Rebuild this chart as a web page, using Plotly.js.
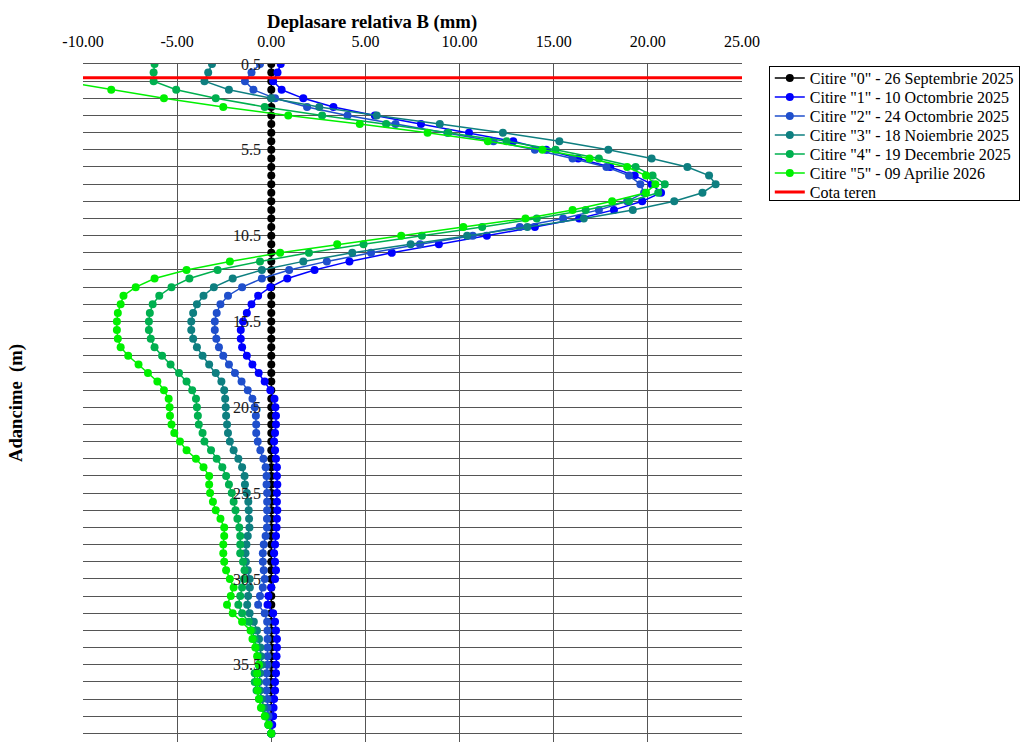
<!DOCTYPE html>
<html><head><meta charset="utf-8">
<script src="https://cdn.plot.ly/plotly-3.0.1.min.js"></script>
<style>html,body{margin:0;padding:0;background:#fff}#chart{width:1020px;height:742px}</style>
</head><body><div id="chart"></div>
<script>
const depth = [0.5,1,1.5,2,2.5,3,3.5,4,4.5,5,5.5,6,6.5,7,7.5,8,8.5,9,9.5,10,10.5,11,11.5,12,12.5,13,13.5,14,14.5,15,15.5,16,16.5,17,17.5,18,18.5,19,19.5,20,20.5,21,21.5,22,22.5,23,23.5,24,24.5,25,25.5,26,26.5,27,27.5,28,28.5,29,29.5,30,30.5,31,31.5,32,32.5,33,33.5,34,34.5,35,35.5,36,36.5,37,37.5,38,38.5,39,39.5];

const citire0 = [0,0,0,0,0,0,0,0,0,0,0,0,0,0,0,0,0,0,0,0,0,0,0,0,0,0,0,0,0,0,0,0,0,0,0,0,0,0,0,0,0,0,0,0,0,0,0,0,0,0,0,0,0,0,0,0,0,0,0,0,0,0,0,0,0,0,0,0,0,0,0,0,0,0,0,0,0,0,0];

const citire1 = [0.5,0.33,0.1,0.55,1.7,3.3,5.5,7.95,10.5,12.85,14.6,16.3,18.0,19.3,20.2,20.7,19.7,18.2,16.35,14.0,11.45,8.9,6.4,4.15,2.3,0.85,-0.05,-0.7,-1.05,-1.3,-1.5,-1.62,-1.62,-1.55,-1.3,-1.0,-0.67,-0.35,-0.05,0.17,0.22,0.25,0.25,0.2,0.15,0.2,0.25,0.3,0.3,0.32,0.3,0.3,0.32,0.3,0.28,0.25,0.2,0.15,0.2,0.25,0.2,0.0,-0.15,-0.2,0.1,0.2,0.25,0.3,0.3,0.28,0.25,0.25,0.2,0.2,0.15,0.12,0.1,0.05,0.0];

const citire2 = [-0.6,-1.05,-1.4,-0.95,0.2,1.9,4.05,6.6,9.35,11.8,14.0,16.0,17.8,19.0,19.6,19.8,18.9,17.4,15.5,13.2,10.7,7.9,5.3,2.95,0.95,-0.5,-1.55,-2.3,-2.7,-2.9,-3.0,-3.0,-2.92,-2.78,-2.55,-2.25,-1.93,-1.58,-1.25,-1.0,-0.88,-0.82,-0.8,-0.8,-0.72,-0.58,-0.42,-0.3,-0.25,-0.25,-0.22,-0.22,-0.22,-0.23,-0.23,-0.3,-0.4,-0.45,-0.45,-0.4,-0.35,-0.45,-0.6,-0.7,-0.35,-0.22,-0.2,-0.2,-0.2,-0.2,-0.2,-0.25,-0.25,-0.25,-0.2,-0.2,-0.15,-0.1,0.0];

const citire3 = [-3.15,-3.35,-3.55,-2.25,0.0,2.55,5.6,8.95,12.3,15.3,17.9,20.2,22.1,23.25,23.6,22.9,21.4,19.2,16.6,13.6,10.4,7.4,4.3,1.7,-0.5,-2.05,-3.05,-3.6,-3.95,-4.15,-4.25,-4.25,-4.15,-3.95,-3.65,-3.3,-2.95,-2.65,-2.5,-2.45,-2.42,-2.4,-2.35,-2.3,-2.2,-2.0,-1.75,-1.55,-1.42,-1.4,-1.3,-1.22,-1.2,-1.18,-1.16,-1.25,-1.32,-1.37,-1.35,-1.25,-1.15,-1.14,-1.23,-1.28,-1.15,-0.93,-0.76,-0.65,-0.58,-0.55,-0.5,-0.6,-0.65,-0.6,-0.5,-0.4,-0.3,-0.15,0.0];

const citire4 = [-6.2,-6.25,-6.25,-5.05,-2.95,-0.35,2.7,6.1,9.4,12.5,15.1,17.4,19.35,20.25,20.9,20.55,19.0,16.7,14.1,11.2,8.0,4.9,2.0,-0.6,-2.85,-4.35,-5.3,-5.95,-6.3,-6.45,-6.5,-6.5,-6.4,-6.2,-5.8,-5.35,-4.9,-4.5,-4.2,-4.0,-3.95,-3.9,-3.85,-3.65,-3.55,-3.2,-2.9,-2.6,-2.4,-2.25,-2.1,-2.0,-1.9,-1.8,-1.7,-1.65,-1.65,-1.65,-1.5,-1.42,-1.45,-1.55,-1.65,-1.75,-1.55,-1.2,-1.0,-0.9,-0.78,-0.7,-0.67,-0.88,-0.88,-0.78,-0.65,-0.5,-0.3,-0.15,0.0];

const citire5 = [-11.0,-11.1,-11.1,-8.5,-5.7,-2.55,0.9,4.7,8.3,11.5,14.4,16.9,18.9,19.9,20.4,19.9,18.1,16.0,13.5,10.2,6.9,3.5,0.47,-2.2,-4.5,-6.2,-7.2,-7.85,-8.0,-8.15,-8.2,-8.2,-8.15,-8.0,-7.6,-7.05,-6.55,-6.05,-5.7,-5.45,-5.4,-5.38,-5.3,-5.15,-4.85,-4.5,-4.0,-3.6,-3.3,-3.3,-3.25,-3.1,-2.95,-2.7,-2.5,-2.5,-2.55,-2.55,-2.5,-2.4,-2.2,-2.0,-2.15,-2.35,-2.05,-1.55,-1.1,-1.0,-0.85,-0.75,-0.65,-0.75,-0.75,-0.72,-0.65,-0.55,-0.35,-0.15,0.0];

const cotaX = [-10, 25];
const cotaY = [1.3, 1.3];

const seriesNames = [
  'Citire "0" - 26 Septembrie 2025',
  'Citire "1" - 10 Octombrie 2025',
  'Citire "2" - 24 Octombrie 2025',
  'Citire "3" - 18 Noiembrie 2025',
  'Citire "4" - 19 Decembrie 2025',
  'Citire "5" - 09 Aprilie 2026'
];
const cotaName = 'Cota teren';
const xTitle = 'Deplasare relativa B (mm)';
const yTitle = 'Adancime  (m)';
const xTickVals = [-10,-5,0,5,10,15,20,25];
const xTickText = ['-10.00','-5.00','0.00','5.00','10.00','15.00','20.00','25.00'];
const yTickVals = [0.5,5.5,10.5,15.5,20.5,25.5,30.5,35.5];
const yTickText = ['0.5','5.5','10.5','15.5','20.5','25.5','30.5','35.5'];

const seriesValues = [citire0, citire1, citire2, citire3, citire4, citire5];
const colors = ['#000000','#0000FF','#1F4FCC','#0E7F80','#00B04F','#00F000'];
const FONT = 'Liberation Serif, serif';

const traces = seriesValues.map((vals, i) => ({
  type: 'scatter', mode: 'lines+markers', name: seriesNames[i],
  x: vals, y: depth,
  line: {color: colors[i], width: 1.5},
  marker: {color: colors[i], size: 8},
  cliponaxis: true
}));
traces.push({
  type: 'scatter', mode: 'lines', name: cotaName,
  x: cotaX, y: cotaY, line: {color: '#FF0000', width: 3}
});

const grid = '#555555';
const layout = {
  width: 1020, height: 742,
  margin: {l: 83, r: 273, t: 64, b: 0},
  paper_bgcolor: '#fff', plot_bgcolor: '#fff',
  font: {family: FONT, size: 16, color: '#000'},
  showlegend: true,
  title: {
    text: xTitle, x: 372/1020, xref: 'container', xanchor: 'center',
    y: 1 - 21/742, yref: 'container', yanchor: 'middle',
    font: {family: FONT, size: 18.67, weight: 700, color: '#000'}
  },
  xaxis: {
    side: 'top', range: [-10, 25], tickmode: 'array',
    tickvals: xTickVals, ticktext: xTickText,
    ticks: 'outside', ticklen: 10, tickcolor: 'rgba(0,0,0,0)',
    showgrid: true, gridcolor: grid, gridwidth: 1,
    zeroline: false, showline: true, linecolor: grid, linewidth: 1, mirror: true,
    tickfont: {family: FONT, size: 16, color: '#000'}, fixedrange: true
  },
  yaxis: {
    range: [40, 0.5], anchor: 'free', position: 10/35, side: 'left',
    tickmode: 'array', tickvals: yTickVals, ticktext: yTickText,
    ticks: 'outside', ticklen: 7, tickcolor: 'rgba(0,0,0,0)',
    showgrid: true, gridcolor: grid, gridwidth: 1,
    minor: {tickmode: 'linear', tick0: 0.5, dtick: 1, showgrid: true, gridcolor: grid, gridwidth: 1, ticks: ''},
    zeroline: false, showline: false,
    tickfont: {family: FONT, size: 16, color: '#1a1a1a'},
    title: {text: yTitle, standoff: 204, font: {family: FONT, size: 18.67, weight: 700, color: '#000'}},
    automargin: false, fixedrange: true
  },
  legend: {
    x: (774-83)/664, xanchor: 'left', y: 0.997, yanchor: 'top',
    bgcolor: '#fff', bordercolor: '#000', borderwidth: 1,
    font: {family: FONT, size: 16, color: '#000'},
    tracegroupgap: 0, itemwidth: 30
  }
};
Plotly.newPlot('chart', traces, layout, {displayModeBar: false, staticPlot: true}).then(gd => {
  // tighten legend row spacing to match the compact reference legend
  const leg = gd.querySelector('g.legend');
  if (!leg) return;
  const items = leg.querySelectorAll('g.traces');
  const step = 19;
  let y0 = null;
  items.forEach((g, i) => {
    const m = /translate\(\s*([-\d.e]+)[ ,]+([-\d.e]+)\s*\)/.exec(g.getAttribute('transform') || '');
    if (!m) return;
    const x = parseFloat(m[1]), y = parseFloat(m[2]);
    if (y0 === null) y0 = y - 6;
    g.setAttribute('transform', 'translate(' + x + ',' + (y0 + i * step) + ')');
  });
  const bg = leg.querySelector('rect.bg');
  if (bg) bg.setAttribute('height', 134);
});
</script>
</body></html>
